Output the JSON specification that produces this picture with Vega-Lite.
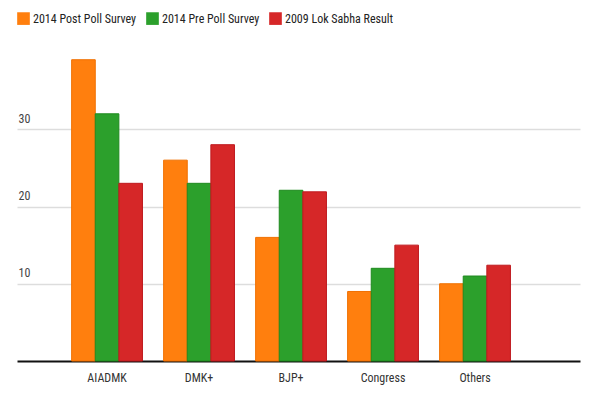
{
  "$schema": "https://vega.github.io/schema/vega-lite/v6.json",
  "width": 563,
  "height": 309,
  "autosize": {"type": "none"},
  "padding": {"left": 17, "top": 52, "right": 20, "bottom": 39},
  "background": "white",
  "config": {
    "view": {"stroke": null},
    "font": "Roboto Condensed, DejaVu Sans Condensed, Roboto, sans-serif"
  },
  "data": {
    "values": [
      {"party": "AIADMK", "series": "2014 Post Poll Survey", "share": 39},
      {"party": "AIADMK", "series": "2014 Pre Poll Survey", "share": 32},
      {"party": "AIADMK", "series": "2009 Lok Sabha Result", "share": 23},
      {"party": "DMK+", "series": "2014 Post Poll Survey", "share": 26},
      {"party": "DMK+", "series": "2014 Pre Poll Survey", "share": 23},
      {"party": "DMK+", "series": "2009 Lok Sabha Result", "share": 28},
      {"party": "BJP+", "series": "2014 Post Poll Survey", "share": 16},
      {"party": "BJP+", "series": "2014 Pre Poll Survey", "share": 22.1},
      {"party": "BJP+", "series": "2009 Lok Sabha Result", "share": 21.9},
      {"party": "Congress", "series": "2014 Post Poll Survey", "share": 9},
      {"party": "Congress", "series": "2014 Pre Poll Survey", "share": 12},
      {"party": "Congress", "series": "2009 Lok Sabha Result", "share": 15},
      {"party": "Others", "series": "2014 Post Poll Survey", "share": 10},
      {"party": "Others", "series": "2014 Pre Poll Survey", "share": 11},
      {"party": "Others", "series": "2009 Lok Sabha Result", "share": 12.4}
    ]
  },
  "mark": {"type": "bar", "strokeWidth": 1},
  "encoding": {
    "x": {
      "field": "party",
      "type": "nominal",
      "sort": ["AIADMK", "DMK+", "BJP+", "Congress", "Others"],
      "scale": {"paddingInner": 0.23, "paddingOuter": 0.675, "align": 0.44},
      "axis": {
        "title": null,
        "labelAngle": 0,
        "ticks": false,
        "domainColor": "#111111",
        "domainWidth": 2,
        "labelPadding": 11,
        "labelFontSize": 12,
        "labelColor": "#333333"
      }
    },
    "xOffset": {
      "field": "series",
      "type": "nominal",
      "sort": ["2014 Post Poll Survey", "2014 Pre Poll Survey", "2009 Lok Sabha Result"],
      "scale": {"paddingInner": 0, "paddingOuter": 0}
    },
    "y": {
      "field": "share",
      "type": "quantitative",
      "scale": {"domain": [0, 40], "nice": false},
      "axis": {
        "title": null,
        "values": [10, 20, 30],
        "domain": false,
        "ticks": false,
        "gridColor": "#dddddd",
        "gridWidth": 1.5,
        "labelAlign": "left",
        "labelBaseline": "bottom",
        "labelPadding": -1,
        "labelOffset": -4,
        "labelFontSize": 12,
        "labelColor": "#444444"
      }
    },
    "color": {
      "field": "series",
      "type": "nominal",
      "sort": ["2014 Post Poll Survey", "2014 Pre Poll Survey", "2009 Lok Sabha Result"],
      "scale": {"range": ["#FF7F0E", "#2CA02C", "#D62728"]},
      "legend": {
        "title": null,
        "orient": "none",
        "legendX": 0,
        "legendY": -40,
        "direction": "horizontal",
        "symbolType": "square",
        "symbolSize": 160,
        "symbolStrokeWidth": 0,
        "symbolOpacity": 1,
        "labelOffset": 3,
        "labelFontSize": 12,
        "labelColor": "#222222",
        "columnPadding": 9,
        "labelLimit": 0
      }
    },
    "stroke": {
      "field": "series",
      "type": "nominal",
      "sort": ["2014 Post Poll Survey", "2014 Pre Poll Survey", "2009 Lok Sabha Result"],
      "scale": {"range": ["#F07000", "#1F8A1F", "#BF1A1F"]},
      "legend": null
    }
  }
}
